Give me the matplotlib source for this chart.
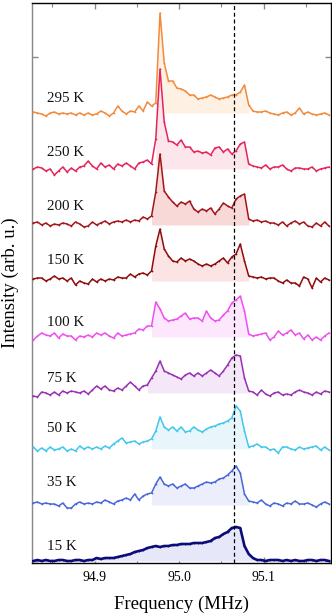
import numpy as np
import matplotlib
matplotlib.use("Agg")
import matplotlib.pyplot as plt
from matplotlib.ticker import MultipleLocator, NullFormatter

plt.rcParams['font.family'] = ['Liberation Serif', 'DejaVu Serif']

# ---------------- data ----------------
freq_start = 94.8275
freq_step = 0.005
n_pts = 71
freq = freq_start + freq_step * np.arange(n_pts)

temps = ["295 K", "250 K", "200 K", "150 K", "100 K", "75 K", "50 K", "35 K", "15 K"]

i295 = [1,0,-1,-3,0,1,-1,0,-1,0, -2,0,-2,0,-2,-1,2,0,-3,0, 7,2,-1,2,1,7,2,11,7,10,
        100,50,32,32,25,24,22,18,18,14, 15,16,18,16,14,15,16,18,18,21,
        28,8,2,1,1,2,0,-1,-2,0, 1,-2,0,5,-1,1,-1,-2,-1,0,-2]
i250 = [0,2,1,-2,0,-6,-2,2,-3,1, -2,2,3,8,3,0,6,2,4,0, 5,3,6,3,0,6,7,9,5,30,
        100,47,28,27,24,29,22,22,17,18, 16,17,14,21,22,17,20,15,18,25,
        27,5,3,2,1,4,0,2,2,4, 0,-2,1,1,0,0,2,-2,0,1,2]
i200 = [2,3,0,2,-1,1,0,2,1,-1, 3,1,-2,-1,3,0,2,4,1,3, 4,3,5,3,5,4,8,6,9,33,
        71,34,28,23,19,23,21,24,16,13, 16,14,17,11,16,22,19,17,26,29,
        31,6,4,5,3,4,2,2,0,3, -1,2,4,1,3,-1,-2,2,-1,3,-1]
i150 = [2,3,3,0,2,5,2,3,0,3, -4,0,-2,-3,2,-1,2,0,2,1, 4,3,3,7,4,7,8,6,10,35,
        52,32,25,20,19,23,20,22,20,17, 15,17,15,17,20,23,18,24,27,37,
        20,5,4,3,4,2,3,3,0,-2, 1,-2,-2,-5,4,2,-7,3,-1,3,1]
i100 = [-3,1,4,2,1,4,-1,3,1,1, -3,1,0,2,0,4,2,4,1,-1, 4,1,2,3,4,8,7,11,11,35,
        28,19,16,17,18,21,24,18,19,19, 16,26,19,16,17,22,26,34,37,41,
        26,3,1,2,3,4,-3,0,6,2, 4,7,2,4,-2,2,-3,0,-3,1,4]
i75 = [-3,-4,1,0,-2,1,-2,2,0,2, 1,0,2,-1,3,7,4,7,3,2, 5,3,7,11,7,3,7,8,15,22,
       32,22,20,18,16,14,18,20,17,20, 17,20,23,20,17,22,28,35,38,37,
       15,2,1,-2,3,-1,-3,0,1,-2, -1,-2,1,3,1,0,-2,1,-1,2,1]
i50 = [2,-2,1,-2,2,-1,0,2,-2,0, -2,3,0,2,0,2,0,3,1,5, 8,11,6,7,8,5,7,8,10,18,
       32,22,19,22,18,22,17,18,22,19, 17,20,22,23,25,26,28,31,43,38,
       18,2,3,5,2,2,-1,0,-4,2, 2,0,-1,2,0,1,2,3,-1,2,-1]
i35 = [2,3,1,2,1,1,-1,2,-3,-3, 1,3,1,2,1,3,2,5,3,1, 4,5,7,5,11,5,9,11,12,21,
       28,21,19,21,17,19,21,17,17,19, 21,23,22,23,26,27,30,34,39,32,
       11,4,3,2,5,1,-1,2,1,-1, 2,1,4,1,1,2,0,-2,1,3,1]
i15 = [0,1,0,1,0,0,1,1,0,0, 1,1,0,1,1,3,2,3,3,3, 4,5,6,7,9,10,11,13,14,15,
       14,15,15,16,16,17,17,17,18,18, 18,19,20,23,24,27,29,33,34,33,
       15,7,3,1,1,0,1,1,1,0, 1,0,1,0,0,1,1,0,1,1,0]

spectra = [i295, i250, i200, i150, i100, i75, i50, i35, i15]
ref_freq = 95.0655

# ---------------- style ----------------
line_colors = ["#F28A3C", "#E5245A", "#A3151A", "#8E0B0B", "#EE4FEE",
               "#9A2FB5", "#40C8EC", "#4767D9", "#0B0B7A"]
fill_colors = ["#FEF1E4", "#FCE6EC", "#F9D8D8", "#FCE4E4", "#FCE7FC",
               "#F4E8F8", "#E8F6FC", "#ECEFFB", "#E6E8FA"]
fill_lo = [94.972, 94.972, 94.967, 94.967, 94.967, 94.962, 94.967, 94.967, 94.827]
fill_hi = [95.083, 95.083, 95.083, 95.083, 95.083, 95.083, 95.083, 95.083, 95.093]
label_dy = [14, 17, 18, 20, 14, 15, 21, 22, 14]
widths = [1.1] * 8 + [1.9]
spacing = 56

fig = plt.figure(figsize=(3.32, 6.15), dpi=100)
ax = fig.add_axes([32/332, 1 - 563/615, 298.5/332, 560/615])

n = len(spectra)
for i, (lab, y) in enumerate(zip(temps, spectra)):
    off = (n - 1 - i) * spacing
    y = np.asarray(y, dtype=float)
    mask = (freq >= fill_lo[i]) & (freq <= fill_hi[i])
    ax.fill_between(freq, off, off + y, where=mask, color=fill_colors[i],
                    lw=0, zorder=2 + 2 * i)
    ax.plot(freq, off + y, color=line_colors[i], lw=widths[i], marker='+',
            ms=1.8, mew=0.5, zorder=3 + 2 * i)
    ax.text(94.8435, off + label_dy[i], lab, fontsize=10.8, ha='left',
            va='center', color='#111111', zorder=30)

ax.axvline(ref_freq, color='black', lw=0.9, dashes=(3.2, 2.2), zorder=40)

ax.set_xlim(94.826, 95.1793)
ax.set_ylim(-2, 558)
ax.xaxis.set_minor_locator(MultipleLocator(0.05))
ax.set_xticks([94.9, 95.0, 95.1])
ax.set_xticklabels(["94.9", "95.0", "95.1"])
ax.set_yticks([0, 504])
ax.yaxis.set_major_formatter(NullFormatter())
ax.tick_params(axis='x', which='both', direction='in', top=True, bottom=True,
               color='#888888', labelsize=9.8, pad=6)
ax.tick_params(axis='x', which='major', length=4, width=1)
ax.tick_params(axis='x', which='minor', length=3, width=0.8)
ax.tick_params(axis='y', which='both', direction='in', left=True, right=True,
               color='#888888', length=4, width=1)

for s in ['top', 'bottom', 'right']:
    ax.spines[s].set_color('black')
    ax.spines[s].set_linewidth(1.0)
ax.spines['left'].set_color('#888888')
ax.spines['left'].set_linewidth(1.0)

ax.set_xlabel("Frequency (MHz)", fontsize=13.5, labelpad=8)
ax.set_ylabel("Intensity (arb. u.)", fontsize=13.5, labelpad=6)

fig.savefig("out.png", dpi=100)
